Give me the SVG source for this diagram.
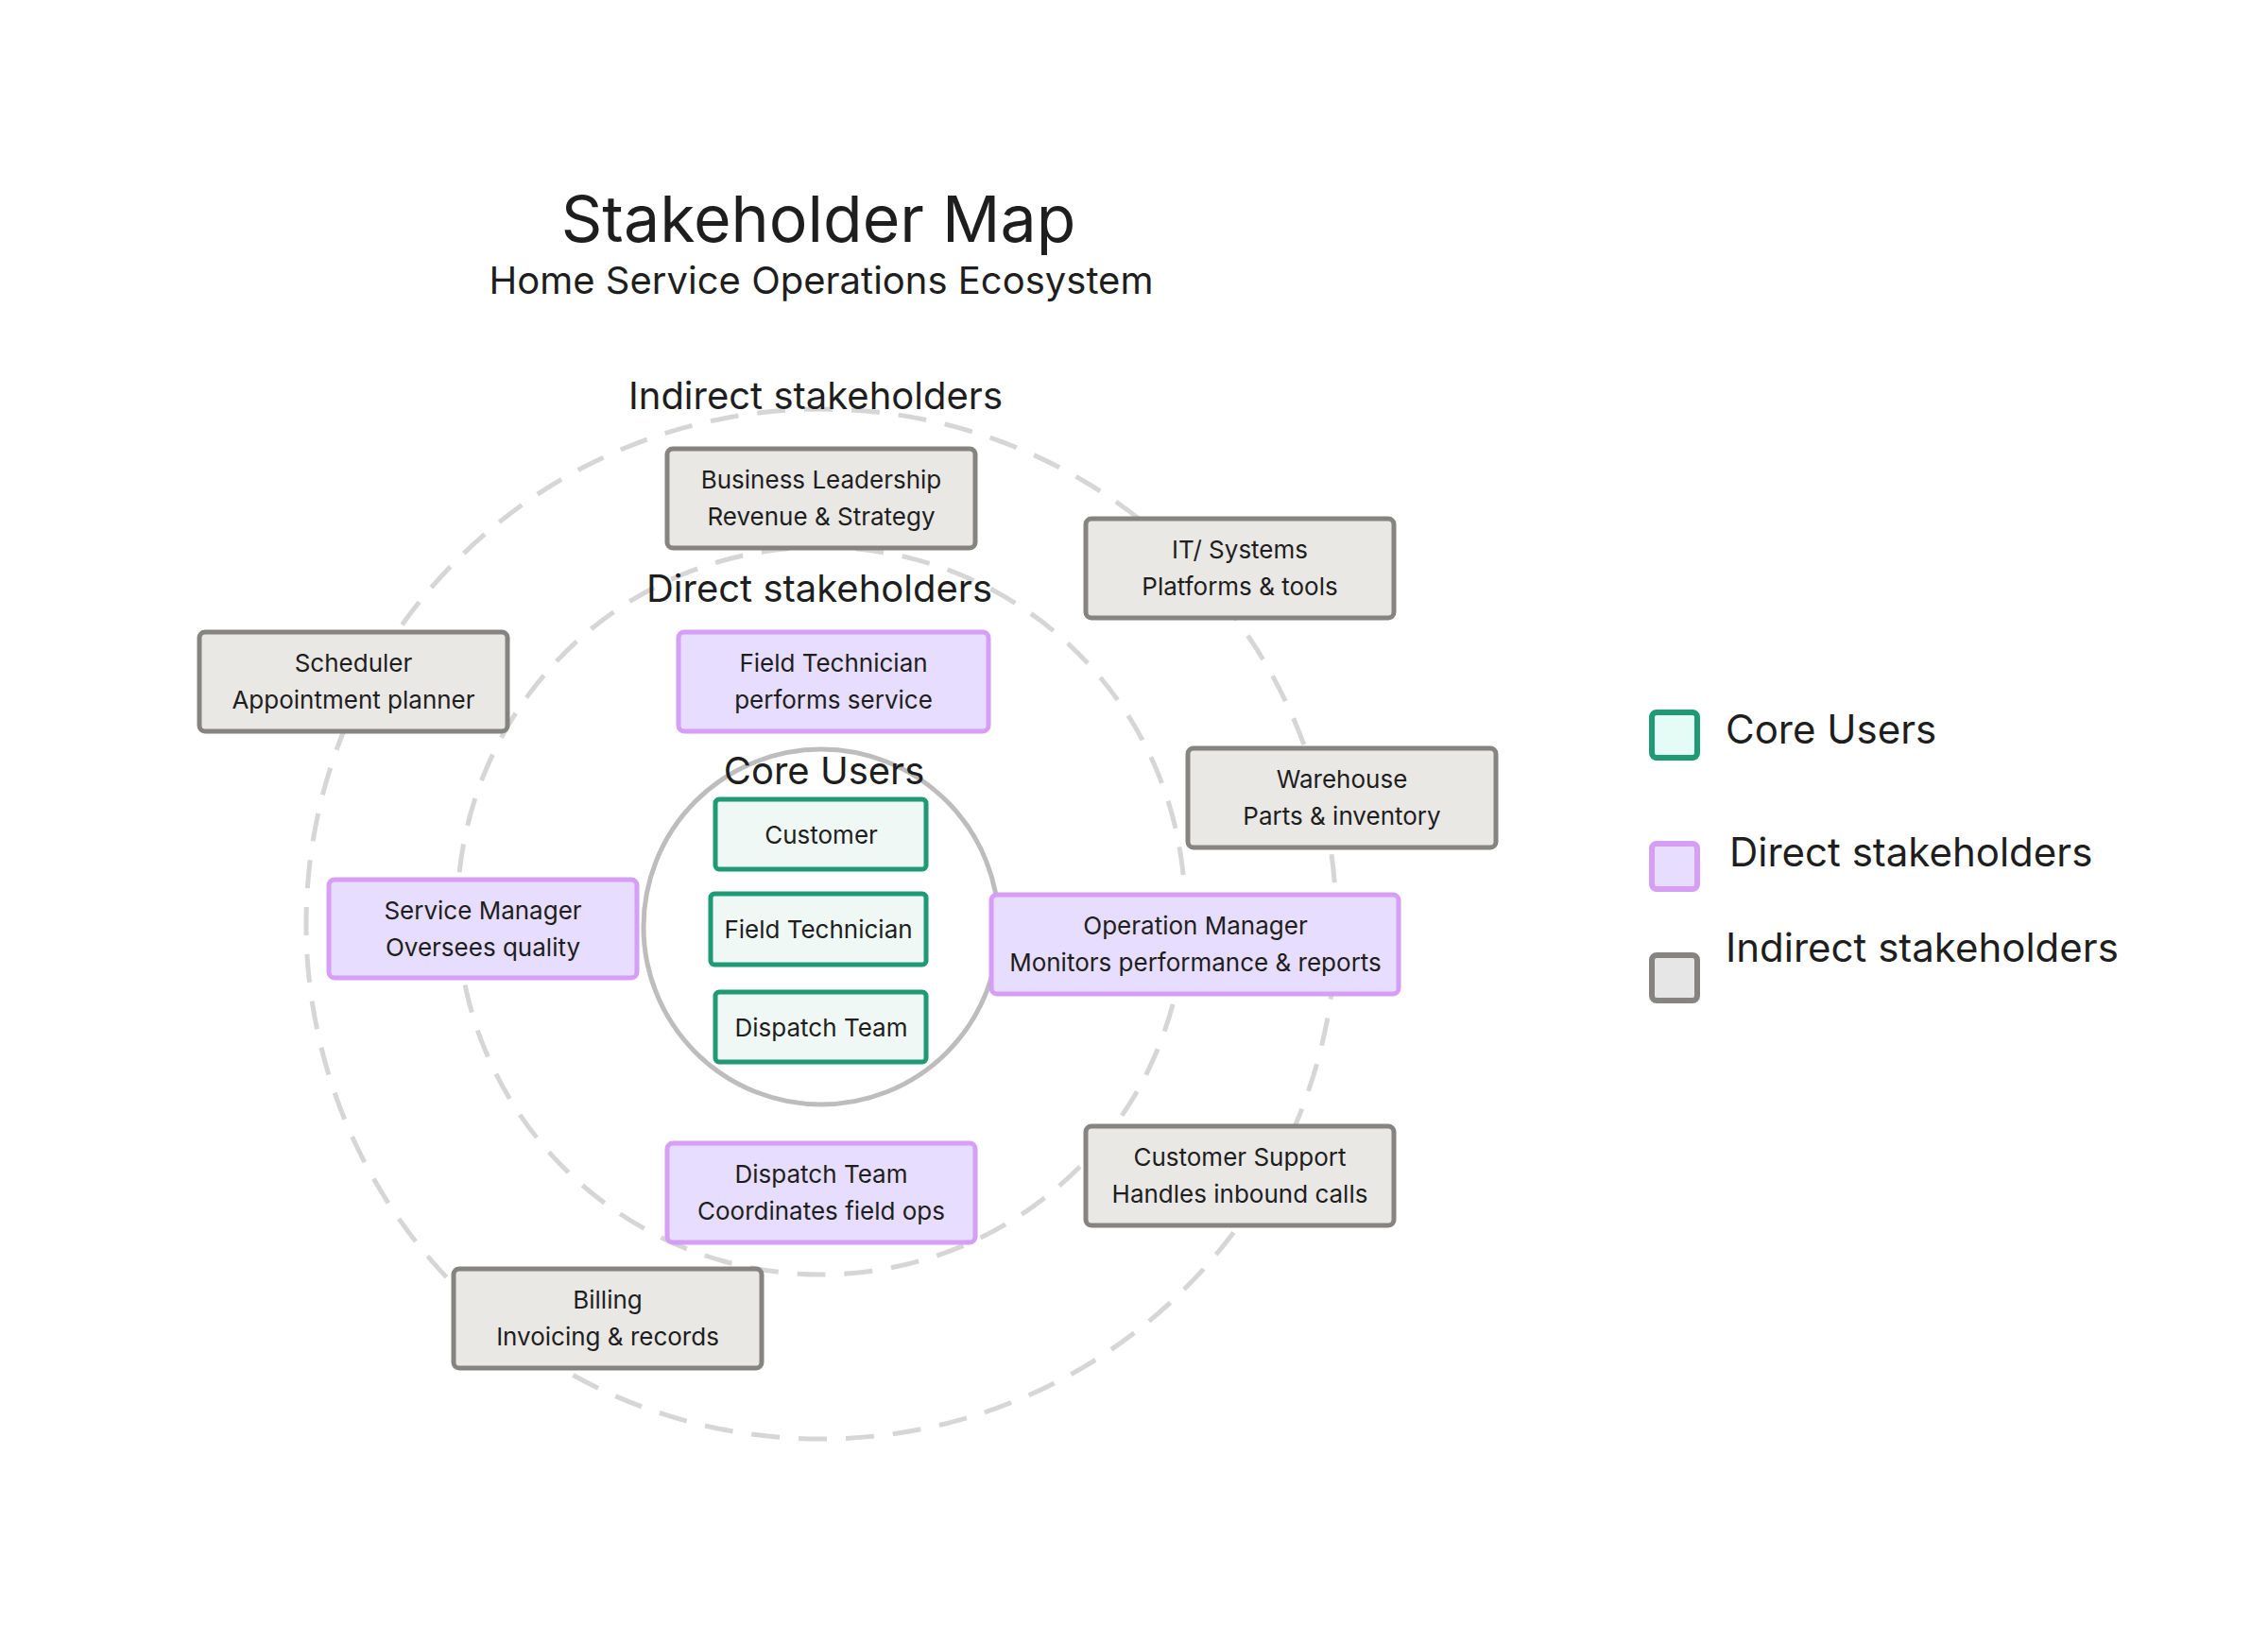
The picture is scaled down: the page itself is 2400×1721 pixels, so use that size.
<svg xmlns="http://www.w3.org/2000/svg" width="2400" height="1721" viewBox="0 0 2400 1721">
<style>
text{font-family:Inter,"Noto Sans","Liberation Sans",sans-serif;fill:#1e1e1e;text-anchor:middle}
.ring{fill:none;stroke:#d6d6d6;stroke-width:5;stroke-dasharray:30 20}
.ind rect{fill:#e9e8e5;stroke:#858480;stroke-width:5}
.dir rect{fill:#e6ddff;stroke:#d69ef5;stroke-width:5}
.core rect{fill:#eff8f4;stroke:#1e9a74;stroke-width:5}
.n{font-size:26px}
.lab{font-size:40px}
.leg{font-size:42px;text-anchor:start}
</style>
<rect width="2400" height="1721" fill="#fff"/>
<text x="866" y="256" font-size="68">Stakeholder Map</text>
<text x="869" y="311" font-size="40">Home Service Operations Ecosystem</text>
<g id="rings">
<circle class="ring" cx="869" cy="978" r="545"/>
<circle class="ring" cx="869" cy="964" r="385"/>
<circle cx="869" cy="981" r="188" fill="#fff" stroke="#bdbdbd" stroke-width="5"/>
</g>
<text class="lab" x="863" y="433">Indirect stakeholders</text>
<text class="lab" x="867" y="637">Direct stakeholders</text>
<text class="lab" x="872" y="830">Core Users</text>
<g id="connectors"></g>
<g id="business" class="ind"><rect x="706" y="475" width="326" height="105" rx="6"/><text class="n" x="869" y="517">Business Leadership</text><text class="n" x="869" y="556">Revenue &amp; Strategy</text></g>
<g id="it" class="ind"><rect x="1149" y="549" width="326" height="105" rx="6"/><text class="n" x="1312" y="591">IT/ Systems</text><text class="n" x="1312" y="630">Platforms &amp; tools</text></g>
<g id="scheduler" class="ind"><rect x="211" y="669" width="326" height="105" rx="6"/><text class="n" x="374" y="711">Scheduler</text><text class="n" x="374" y="750">Appointment planner</text></g>
<g id="warehouse" class="ind"><rect x="1257" y="792" width="326" height="105" rx="6"/><text class="n" x="1420" y="834">Warehouse</text><text class="n" x="1420" y="873">Parts &amp; inventory</text></g>
<g id="support" class="ind"><rect x="1149" y="1192" width="326" height="105" rx="6"/><text class="n" x="1312" y="1234">Customer Support</text><text class="n" x="1312" y="1273">Handles inbound calls</text></g>
<g id="billing" class="ind"><rect x="480" y="1343" width="326" height="105" rx="6"/><text class="n" x="643" y="1385">Billing</text><text class="n" x="643" y="1424">Invoicing &amp; records</text></g>
<g id="fieldtech-direct" class="dir"><rect x="718" y="669" width="328" height="105" rx="6"/><text class="n" x="882" y="711">Field Technician</text><text class="n" x="882" y="750">performs service</text></g>
<g id="servicemgr" class="dir"><rect x="348" y="931" width="326" height="104" rx="6"/><text class="n" x="511" y="973">Service Manager</text><text class="n" x="511" y="1012">Oversees quality</text></g>
<g id="opmgr" class="dir"><rect x="1049" y="947" width="431" height="105" rx="6"/><text class="n" x="1265" y="989">Operation Manager</text><text class="n" x="1265" y="1028">Monitors performance &amp; reports</text></g>
<g id="dispatch-direct" class="dir"><rect x="706" y="1210" width="326" height="105" rx="6"/><text class="n" x="869" y="1252">Dispatch Team</text><text class="n" x="869" y="1291">Coordinates field ops</text></g>
<g id="customer" class="core"><rect x="757" y="846" width="223" height="74" rx="4"/><text class="n" x="869" y="893">Customer</text></g>
<g id="fieldtech-core" class="core"><rect x="752" y="946" width="228" height="75" rx="4"/><text class="n" x="866" y="993">Field Technician</text></g>
<g id="dispatch-core" class="core"><rect x="757" y="1050" width="223" height="74" rx="4"/><text class="n" x="869" y="1097">Dispatch Team</text></g>
<g id="legend">
<rect x="1748" y="754" width="48" height="48" rx="5" fill="#e4fbf6" stroke="#1e9a74" stroke-width="6"/>
<text class="leg" x="1826" y="787">Core Users</text>
<rect x="1748" y="893" width="48" height="48" rx="5" fill="#e6ddff" stroke="#d69ef5" stroke-width="6"/>
<text class="leg" x="1830" y="917">Direct stakeholders</text>
<rect x="1748" y="1011" width="48" height="48" rx="5" fill="#e6e6e6" stroke="#858480" stroke-width="6"/>
<text class="leg" x="1826" y="1018">Indirect stakeholders</text>
</g>
</svg>
